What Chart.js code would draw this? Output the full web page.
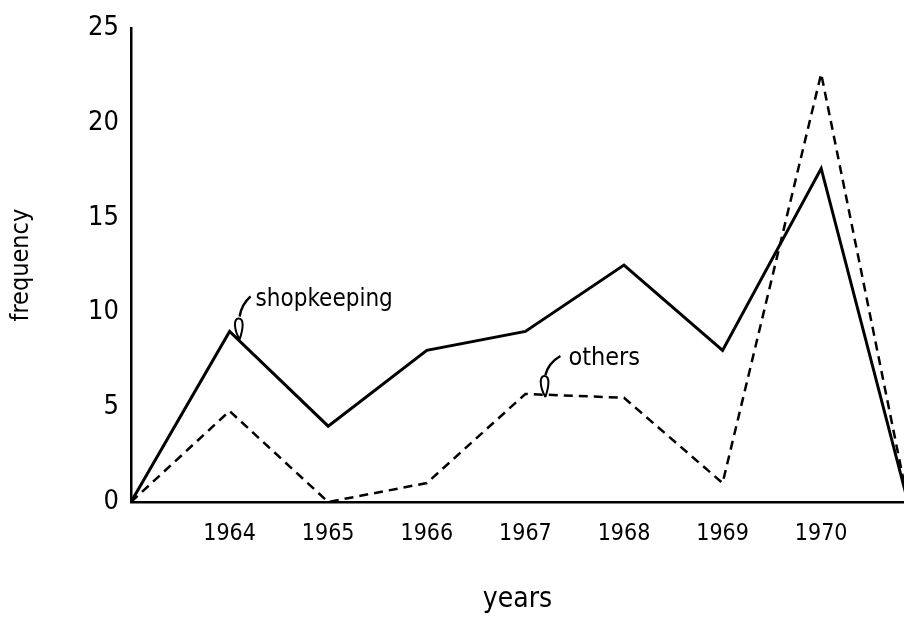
<!DOCTYPE html>
<html><head><meta charset="utf-8">
<script src="https://cdn.jsdelivr.net/npm/chart.js@4"></script>
<style>html,body{margin:0;padding:0;background:#fff;overflow:hidden}
#wrap{width:904px;height:619px;position:relative}
canvas{display:block}</style></head>
<body><div id="wrap"><canvas id="c" width="904" height="619" style="width:904px;height:619px"></canvas></div>
<script>
// Data (x = year position; last point is where the lines return to zero)
const years = [1963, 1964, 1965, 1966, 1967, 1968, 1969, 1970, 1970.88];
const tickYears = [1964, 1965, 1966, 1967, 1968, 1969, 1970];
const yTicks = [0, 5, 10, 15, 20, 25];
const shopkeeping = [0, 9, 4, 8, 9, 12.5, 8, 17.6, 0];
const others = [0, 4.8, 0, 1, 5.7, 5.5, 1, 22.6, 0];
const seriesNames = ['shopkeeping', 'others'];

const COND = "'DejaVu Sans Condensed', 'DejaVu Sans', sans-serif";

function pts(vals) { return years.map((x, i) => ({ x: x, y: vals[i] })); }

const labelPlugin = {
  id: 'handLabels',
  afterDatasetsDraw(chart) {
    const ctx = chart.ctx;
    const xs = chart.scales.x, ys = chart.scales.y;
    function drop(tx, ty, h, w) {
      ctx.beginPath();
      ctx.moveTo(tx, ty);
      ctx.bezierCurveTo(tx - w, ty - h * 0.5, tx - w, ty - h, tx - 1, ty - h);
      ctx.bezierCurveTo(tx + w * 0.8, ty - h, tx + w * 0.6, ty - h * 0.5, tx, ty);
      ctx.stroke();
    }
    ctx.save();
    ctx.strokeStyle = '#000';
    ctx.fillStyle = '#000';
    ctx.lineWidth = 2.5;
    let px = xs.getPixelForValue(years[1]), py = ys.getPixelForValue(shopkeeping[1]);
    ctx.beginPath();
    ctx.moveTo(px + 21, py - 35);
    ctx.quadraticCurveTo(px + 12, py - 27, px + 10, py - 15);
    ctx.stroke();
    ctx.lineWidth = 2;
    drop(px + 10, py + 8, 21, 6);
    ctx.font = "normal condensed 24px " + COND;
    ctx.textBaseline = 'middle';
    ctx.textAlign = 'left';
    ctx.fillText(seriesNames[0], px + 26, py - 32);
    px = xs.getPixelForValue(years[4]); py = ys.getPixelForValue(others[4]);
    ctx.lineWidth = 2.5;
    ctx.beginPath();
    ctx.moveTo(px + 35, py - 38);
    ctx.quadraticCurveTo(px + 23, py - 31, px + 20, py - 19);
    ctx.stroke();
    ctx.lineWidth = 2;
    drop(px + 20, py + 3, 21, 6);
    ctx.font = "normal condensed 25px " + COND;
    ctx.fillText(seriesNames[1], px + 43, py - 35);
    ctx.restore();
  }
};

new Chart(document.getElementById('c'), {
  type: 'line',
  data: {
    datasets: [
      { label: seriesNames[0], data: pts(shopkeeping), borderColor: '#000', borderWidth: 3,
        pointRadius: 0, tension: 0, fill: false },
      { label: seriesNames[1], data: pts(others), borderColor: '#000', borderWidth: 2.5,
        borderDash: [9, 6], pointRadius: 0, tension: 0, fill: false }
    ]
  },
  options: {
    responsive: false,
    animation: false,
    devicePixelRatio: 1,
    layout: { padding: { top: 25, right: 0, bottom: 0, left: 0 } },
    plugins: { legend: { display: false }, tooltip: { enabled: false } },
    scales: {
      x: {
        type: 'linear', min: 1963, max: 1970.84,
        afterFit(s) { s.height = 117; },
        afterBuildTicks(s) { s.ticks = tickYears.map(v => ({ value: v })); },
        grid: { display: false, drawTicks: false },
        border: { display: true, color: '#000', width: 2.5 },
        ticks: { color: '#000', font: { family: COND, size: 23, weight: 'condensed' }, padding: 18, maxRotation: 0,
                 autoSkip: false, callback: v => String(v) },
        title: { display: true, text: 'years', color: '#000', font: { family: COND, size: 28, weight: 'condensed' },
                 padding: { top: 2, bottom: 2 } }
      },
      y: {
        min: 0, max: 25,
        afterFit(s) { s.width = 131; },
        afterBuildTicks(s) { s.ticks = yTicks.map(v => ({ value: v })); },
        grid: { display: false, drawTicks: false },
        border: { display: true, color: '#000', width: 2.5 },
        ticks: { color: '#000', font: { family: COND, size: 27, weight: 'condensed' }, padding: 12 },
        title: { display: true, text: 'frequency', color: '#000', font: { family: COND, size: 25, weight: 'condensed' },
                 padding: { top: 6, bottom: 0 } }
      }
    }
  },
  plugins: [labelPlugin]
});
</script></body></html>
